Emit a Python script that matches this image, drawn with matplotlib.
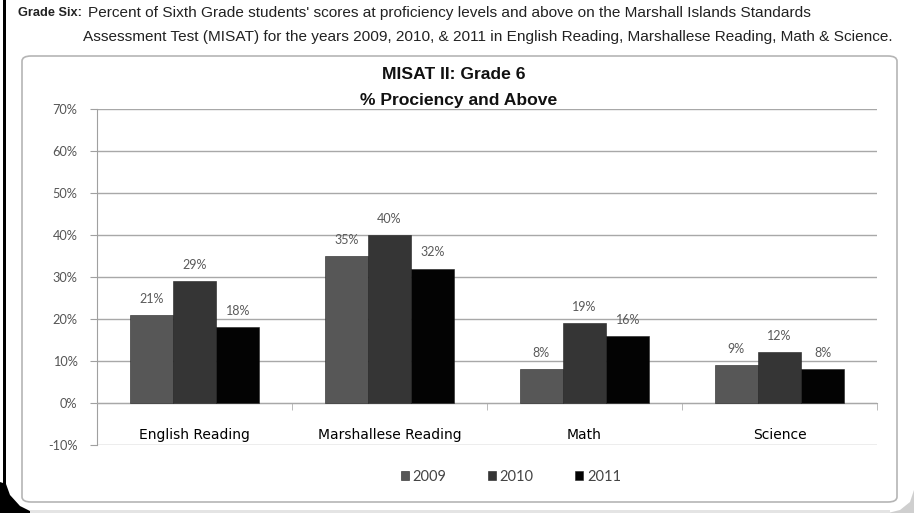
import matplotlib
matplotlib.use("Agg")
import matplotlib.pyplot as plt
from matplotlib.patches import FancyBboxPatch, Polygon, Rectangle
import numpy as np

categories = ["English Reading", "Marshallese Reading", "Math", "Science"]
years = ["2009", "2010", "2011"]
v2009 = [21, 35, 8, 9]
v2010 = [29, 40, 19, 12]
v2011 = [18, 32, 16, 8]
series = [v2009, v2010, v2011]
colors = ["#575757", "#353535", "#030303"]
yticks = [-10, 0, 10, 20, 30, 40, 50, 60, 70]

W, H = 914, 513
fig = plt.figure(figsize=(W / 100, H / 100), dpi=100)
fig.patch.set_facecolor("white")

def fx(px):
    return px / W

def fy(py):
    return 1 - py / H

narrow = ["Liberation Sans Narrow", "Liberation Sans", "DejaVu Sans"]
body = ["Lato", "DejaVu Sans"]

# page frame decorations
fig.add_artist(Rectangle((fx(3), fy(488)), fx(3), 488 / H, transform=fig.transFigure,
                         facecolor="black", edgecolor="none"))
corner = np.array([[0, 482], [6, 484], [10, 495], [20, 506], [34, 513], [0, 513]])
fig.add_artist(Polygon(np.c_[fx(corner[:, 0]), fy(corner[:, 1])], closed=True,
                       transform=fig.transFigure, facecolor="black", edgecolor="none"))
corner2 = np.array([[914, 490], [910, 502], [900, 510], [888, 513], [914, 513]])
fig.add_artist(Polygon(np.c_[fx(corner2[:, 0]), fy(corner2[:, 1])], closed=True,
                       transform=fig.transFigure, facecolor="#cfcfcf", edgecolor="none"))
fig.add_artist(Rectangle((fx(30), fy(513)), fx(860), 3 / H, transform=fig.transFigure,
                         facecolor="#e4e4e4", edgecolor="none"))

# chart border
fig.add_artist(FancyBboxPatch((fx(22), fy(502)), fx(875), (502 - 56) / H,
                              boxstyle="round,pad=0,rounding_size=0.01",
                              transform=fig.transFigure, facecolor="none",
                              edgecolor="#b5b5b5", linewidth=1.2))

# caption
t1 = fig.text(fx(18), fy(13), "Grade Six:", fontsize=9.2, fontweight="bold",
              family=narrow, va="center", ha="left", color="#222222")
renderer = fig.canvas.get_renderer()
bb = t1.get_window_extent(renderer)
fig.text(bb.x1 / W + fx(6), fy(13),
         "Percent of Sixth Grade students' scores at proficiency levels and above on the Marshall Islands Standards",
         fontsize=11.1, family=narrow, va="center", ha="left", color="#222222")
fig.text(fx(83), fy(37),
         "Assessment Test (MISAT) for the years 2009, 2010, & 2011 in English Reading, Marshallese Reading, Math & Science.",
         fontsize=11.1, family=narrow, va="center", ha="left", color="#222222")

# title
fig.text(fx(454), fy(75), "MISAT II: Grade 6", fontsize=12.6, fontweight="bold",
         family=narrow, ha="center", va="center", color="#111111")
fig.text(fx(459), fy(101), "% Prociency and Above", fontsize=12.6, fontweight="bold",
         family=narrow, ha="center", va="center", color="#111111")

ax = fig.add_axes([fx(97), fy(445), fx(877 - 97), (445 - 109) / H])
x = np.arange(len(categories))
bw = 0.222
for i, (vals, c, yr) in enumerate(zip(series, colors, years)):
    pos = x + (i - 1) * bw
    ax.bar(pos, vals, width=bw, color=c, edgecolor="#222222", linewidth=0.4,
           label=yr, zorder=3)
    for p, v in zip(pos, vals):
        ax.text(p, v + 2.4, f"{v}%", ha="center", va="bottom", fontsize=9,
                family=body, color="#5a5a5a", zorder=4)

ax.set_xlim(-0.5, len(categories) - 0.5)
ax.set_ylim(-10.05, 70)
ax.set_yticks(yticks)
ax.set_yticklabels([f"{t}%" for t in yticks], family=body, fontsize=9.2, color="#555555")
ax.yaxis.grid(True, color="#a8a8a8", linewidth=1.0, zorder=0)
ax.set_axisbelow(True)

ax.set_xticks(x)
ax.set_xticklabels(categories, family=body, fontsize=9.6, color="#444444")
ax.set_xticks(np.arange(len(categories) + 1) - 0.5, minor=True)
ax.tick_params(axis="x", which="major", length=0, pad=18)
ax.tick_params(axis="x", which="minor", length=5, color="#b0b0b0", direction="out")
ax.tick_params(axis="y", length=5, color="#a0a0a0", pad=9)

for s in ["top", "right"]:
    ax.spines[s].set_visible(False)
ax.spines["bottom"].set_position(("data", 0))
ax.spines["bottom"].set_color("#a8a8a8")
ax.spines["left"].set_color("#a0a0a0")
ax.patch.set_alpha(0)

leg = fig.legend(loc="center", bbox_to_anchor=(fx(511), fy(477)), ncol=3, frameon=False,
                 prop={"family": body, "size": 10.5}, handlelength=0.55, handleheight=0.55,
                 handletextpad=0.25, columnspacing=2.85)
for t in leg.get_texts():
    t.set_color("#444444")

fig.savefig("out.png", dpi=100)
